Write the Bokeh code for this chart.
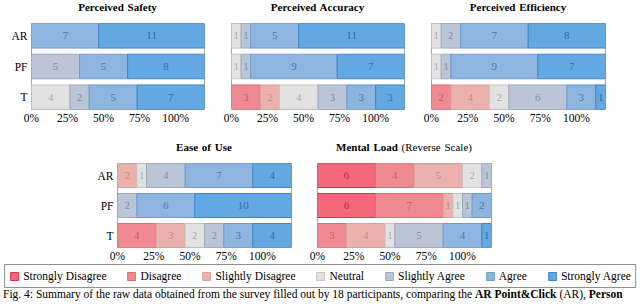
from bokeh.plotting import figure
from bokeh.models import (Range1d, FixedTicker, CustomJSTickFormatter, ColumnDataSource,
                          Legend, LegendItem, Div)
from bokeh.layouts import column, row
from bokeh.embed import file_html
from bokeh.resources import INLINE
from bokeh.core.properties import value

# ---------------- data ----------------
levels = ["Strongly Disagree", "Disagree", "Slightly Disagree", "Neutral",
          "Slightly Agree", "Agree", "Strongly Agree"]
groups = ["AR", "PF", "T"]
tick_labels = ["0%", "25%", "50%", "75%", "100%"]
participants = 18
full_scale = 15  # count that the "100%" tick sits at

safety = {"AR": [0, 0, 0, 0, 0, 7, 11],
          "PF": [0, 0, 0, 0, 5, 5, 8],
          "T":  [0, 0, 0, 4, 2, 5, 7]}
accuracy = {"AR": [0, 0, 0, 1, 1, 5, 11],
            "PF": [0, 0, 0, 1, 1, 9, 7],
            "T":  [0, 3, 2, 4, 3, 3, 3]}
efficiency = {"AR": [0, 0, 0, 1, 2, 7, 8],
              "PF": [0, 0, 0, 1, 1, 9, 7],
              "T":  [0, 2, 4, 2, 6, 3, 1]}
ease = {"AR": [0, 0, 2, 1, 4, 7, 4],
        "PF": [0, 0, 0, 0, 2, 6, 10],
        "T":  [0, 4, 3, 2, 2, 3, 4]}
mental = {"AR": [6, 4, 5, 2, 1, 0, 0],
          "PF": [6, 7, 1, 1, 1, 2, 0],
          "T":  [0, 3, 4, 1, 5, 4, 1]}

fill_colors = ["#f5677a", "#f08a92", "#eab1ad", "#e2e2e2", "#bac6d8", "#8db5e0", "#63a8e0"]
line_colors = ["#d2364c", "#dc6e78", "#d9a19d", "#c6c6c6", "#9eabbf", "#6e9ccf", "#3f86c6"]
text_colors = ["#c8283c", "#cc5a64", "#c08c88", "#ababab", "#8190a8", "#4a78b0", "#3a6aa8"]

FONT = "Liberation Serif"


def panel(data, width, height, left, right, top, bottom, show_y):
    p = figure(width=width, height=height, output_backend="svg", toolbar_location=None,
               x_range=Range1d(0, participants), y_range=Range1d(0.1, len(groups) - 0.1),
               min_border_left=left, min_border_right=right,
               min_border_top=top, min_border_bottom=bottom, margin=0)
    cols = {"y": [], "left": [], "right": [], "xm": [], "fill": [], "line": [], "tc": [], "txt": []}
    for gi, g in enumerate(groups):
        yc = len(groups) - gi - 0.5
        acc = 0
        for li, c in enumerate(data[g]):
            if c == 0:
                continue
            cols["y"].append(yc)
            cols["left"].append(acc)
            cols["right"].append(acc + c)
            cols["xm"].append(acc + c / 2)
            cols["fill"].append(fill_colors[li])
            cols["line"].append(line_colors[li])
            cols["tc"].append(text_colors[li])
            cols["txt"].append(str(c))
            acc += c
    src = ColumnDataSource(cols)
    p.hbar(y="y", left="left", right="right", height=0.8, fill_color="fill",
           line_color="line", line_width=1, source=src)
    p.text(x="xm", y="y", text="txt", text_color="tc", text_align="center",
           text_baseline="middle", text_font=value(FONT), text_font_size="11px", source=src)

    step = full_scale / (len(tick_labels) - 1)
    p.xaxis.ticker = FixedTicker(ticks=[i * step for i in range(len(tick_labels))])
    p.xaxis.formatter = CustomJSTickFormatter(args=dict(labels=tick_labels, step=step),
                                              code="return labels[Math.round(tick / step)];")
    p.yaxis.ticker = FixedTicker(ticks=[i + 0.5 for i in range(len(groups))])
    p.yaxis.formatter = CustomJSTickFormatter(args=dict(labels=groups),
                                              code="return labels[labels.length - 1 - Math.floor(tick)];")
    for ax in (p.xaxis, p.yaxis):
        ax.axis_line_color = None
        ax.major_tick_line_color = None
        ax.minor_tick_line_color = None
        ax.major_tick_out = 0
        ax.major_tick_in = 0
        ax.minor_tick_out = 0
        ax.minor_tick_in = 0
        ax.major_label_text_font = FONT
        ax.major_label_text_color = "black"
        ax.major_label_text_font_size = "11.5px"
    p.xaxis.major_label_standoff = 2
    p.yaxis.major_label_standoff = 4
    p.yaxis.visible = show_y
    p.xgrid.visible = False
    p.ygrid.visible = False
    p.outline_line_color = "#a6a6a6"
    p.outline_line_width = 1
    p.background_fill_color = "white"
    p.border_fill_color = "white"
    return p


def title_div(html, width, height, left, frame_w):
    return Div(text=f'<div style="margin-left:{left}px;width:{frame_w}px;text-align:center;'
                    f'line-height:{height}px;white-space:nowrap;word-spacing:1px">{html}</div>',
               width=width, height=height, margin=0,
               styles={"font-family": FONT, "font-size": "11px", "color": "black"})


# top row: title strip 13 px + plot 122 px
TT, TP = 13, 122
d1 = title_div("<b>Perceived Safety</b>", 210, TT, 31, 173)
p1 = panel(safety, 210, TP, 31, 6, 10, 26, True)
d2 = title_div("<b>Perceived Accuracy</b>", 210, TT, 21, 173)
p2 = panel(accuracy, 210, TP, 21, 16, 10, 26, False)
d3 = title_div("<b>Perceived Efficiency</b>", 220, TT, 11, 174)
p3 = panel(efficiency, 220, TP, 11, 35, 10, 26, False)

# bottom row: title strip 25 px + plot 104 px
BT, BP = 25, 104
d4 = title_div("<b>Ease of Use</b>", 304, BT, 117, 174)
p4 = panel(ease, 304, BP, 117, 13, 3, 15, True)
d5 = title_div("<b>Mental Load</b> (Reverse Scale)", 336, BT, 13, 174)
p5 = panel(mental, 336, BP, 13, 149, 3, 15, False)

# ---------------- legend strip ----------------
lf = figure(width=640, height=24, output_backend="svg", toolbar_location=None,
            x_range=Range1d(0, 1), y_range=Range1d(0, 1), margin=0,
            min_border_left=0, min_border_right=0, min_border_top=0, min_border_bottom=0)
lf.xaxis.visible = False
lf.yaxis.visible = False
lf.xgrid.visible = False
lf.ygrid.visible = False
lf.outline_line_color = None
items = []
for li, lev in enumerate(levels):
    # placeholder bar outside the visible range, only used for the legend swatch
    r = lf.hbar(y=[-5], left=[0], right=[1], height=0.5, fill_color=fill_colors[li],
                line_color=line_colors[li], line_width=1)
    items.append(LegendItem(label=lev, renderers=[r]))
legend = Legend(items=items, orientation="horizontal", location="center",
                border_line_color="#222222", border_line_width=1, padding=4,
                spacing=20, glyph_width=10, glyph_height=10, label_standoff=4,
                label_height=14, label_text_font=FONT, label_text_font_size="11.5px",
                label_text_color="black", margin=0, background_fill_alpha=1)
lf.add_layout(legend, "center")

cap = Div(text='<div style="line-height:13px;white-space:nowrap;overflow:hidden;padding-left:3px">'
               "Fig. 4: Summary of the raw data obtained from the survey filled out by 18 "
               "participants, comparing the <b>AR Point&amp;Click</b> (AR), <b>Person</b></div>",
          width=640, height=16, margin=0,
          styles={"font-family": FONT, "font-size": "11.5px", "color": "black",
                  "overflow": "hidden"})

layout = column(
    row(column(d1, p1), column(d2, p2), column(d3, p3)),
    row(column(d4, p4), column(d5, p5)),
    lf, cap)
open("out.html", "w").write(file_html(layout, INLINE))
